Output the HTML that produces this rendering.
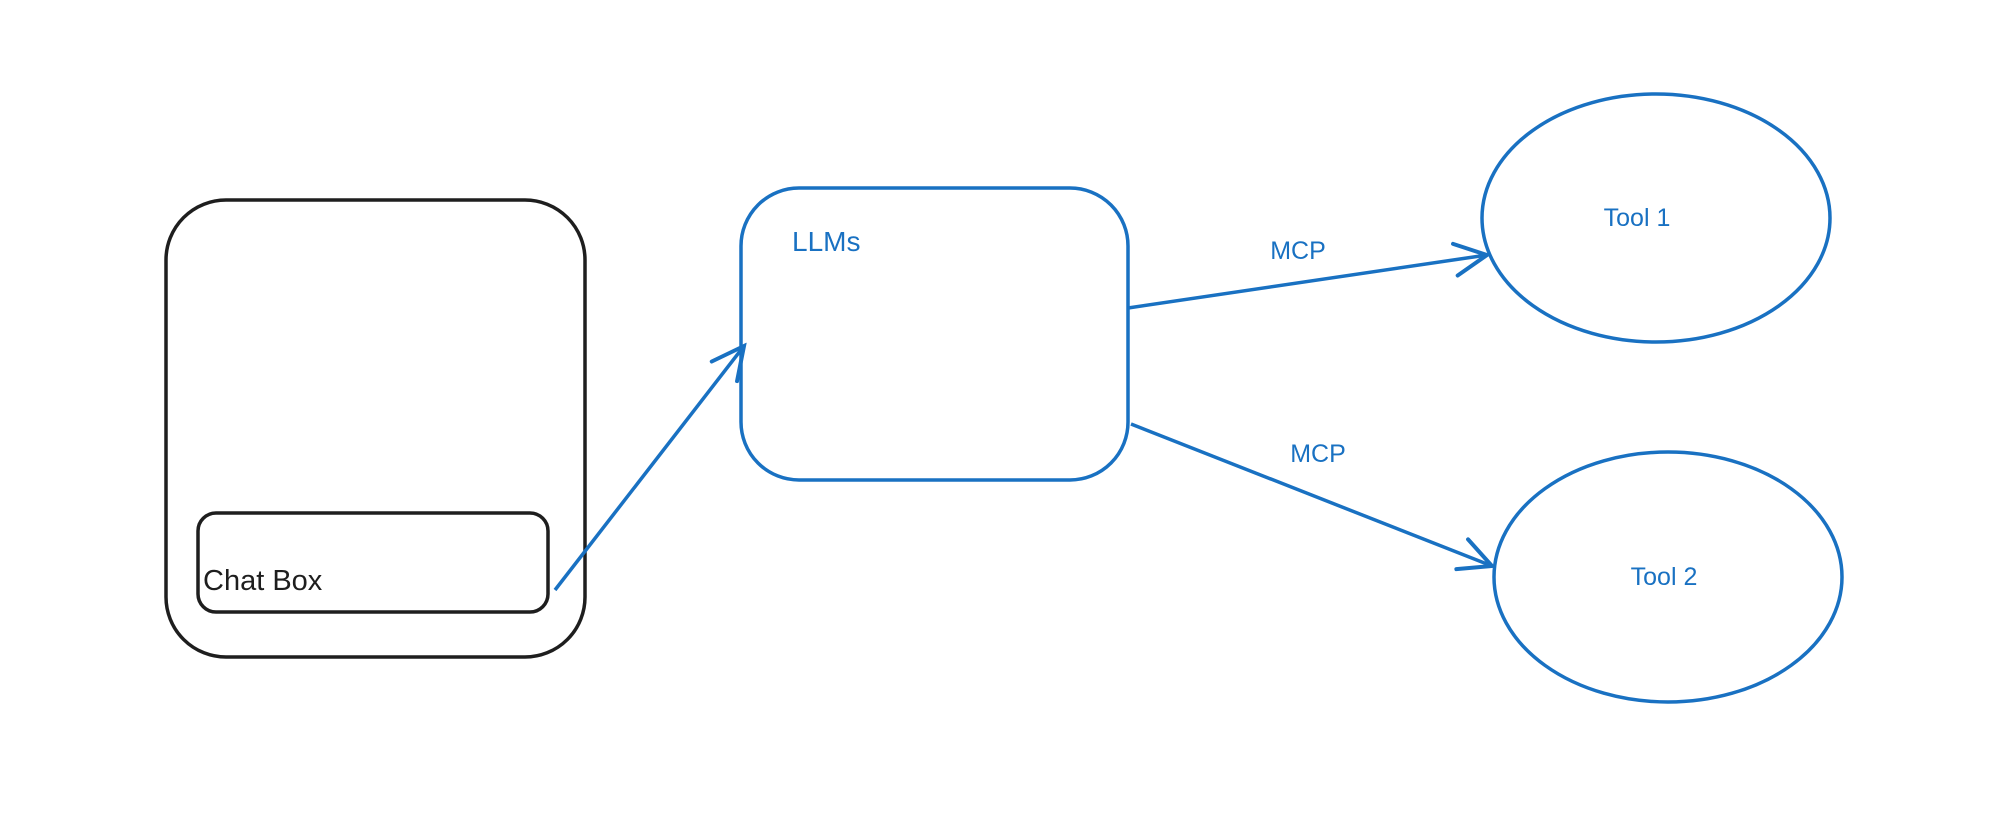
<!DOCTYPE html>
<html><head><style>
html,body{margin:0;padding:0;background:#fff;}
svg{display:block;}
text{font-family:"Liberation Sans",sans-serif;}
</style></head><body>
<svg width="1990" height="816" viewBox="0 0 1990 816" xmlns="http://www.w3.org/2000/svg">
<defs>
<marker id="ah" viewBox="0 0 20 20" refX="18" refY="10" markerWidth="40" markerHeight="40" markerUnits="userSpaceOnUse" orient="auto">
<path d="M2,2 L18,10 L2,18" fill="none" stroke="#1971c2" stroke-width="2" stroke-linecap="round"/>
</marker>
</defs>
<rect x="166" y="200" width="419" height="457" rx="60" fill="none" stroke="#1e1e1e" stroke-width="3.5"/>
<rect x="198" y="513" width="350" height="99" rx="18" fill="none" stroke="#1e1e1e" stroke-width="3.5"/>
<text x="203" y="590" font-size="29" fill="#1e1e1e">Chat Box</text>
<rect x="741" y="188" width="387" height="292" rx="58" fill="none" stroke="#1971c2" stroke-width="3.5"/>
<text x="792" y="251" font-size="28" fill="#1971c2">LLMs</text>
<ellipse cx="1656" cy="218" rx="174" ry="124" fill="none" stroke="#1971c2" stroke-width="3.5"/>
<text x="1637" y="226" font-size="25" fill="#1971c2" text-anchor="middle">Tool 1</text>
<ellipse cx="1668" cy="577" rx="174" ry="125" fill="none" stroke="#1971c2" stroke-width="3.5"/>
<text x="1664" y="585" font-size="25" fill="#1971c2" text-anchor="middle">Tool 2</text>
<line x1="555" y1="590" x2="744" y2="346" stroke="#1971c2" stroke-width="3.5" marker-end="url(#ah)"/>
<line x1="1128" y1="308" x2="1487" y2="255" stroke="#1971c2" stroke-width="3.5" marker-end="url(#ah)"/>
<line x1="1131" y1="424" x2="1492" y2="566" stroke="#1971c2" stroke-width="3.5" marker-end="url(#ah)"/>
<text x="1298" y="259" font-size="25" fill="#1971c2" text-anchor="middle">MCP</text>
<text x="1318" y="462" font-size="25" fill="#1971c2" text-anchor="middle">MCP</text>
</svg>
</body></html>
